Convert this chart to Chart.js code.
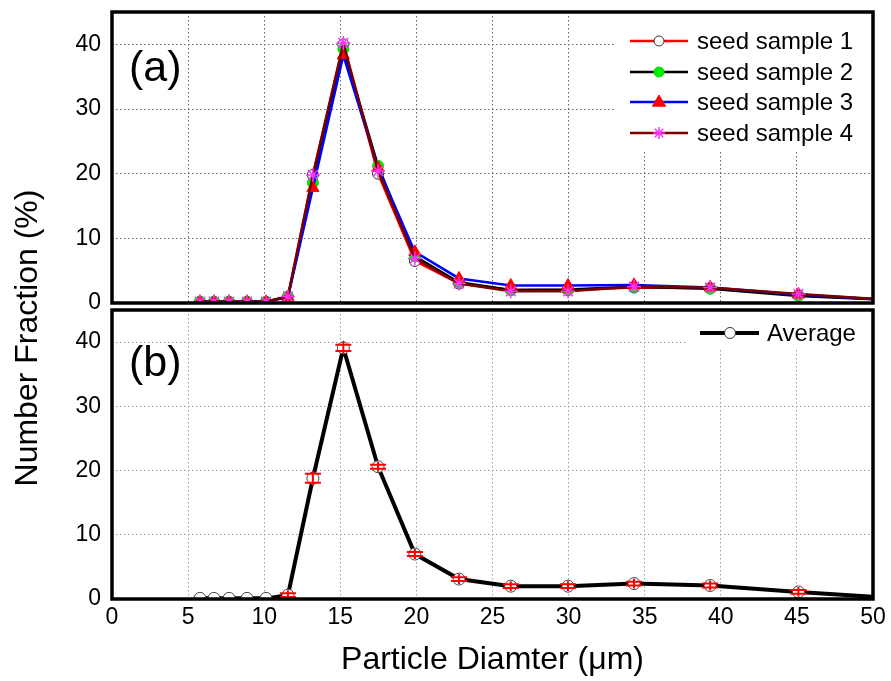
<!DOCTYPE html>
<html><head><meta charset="utf-8">
<script src="https://cdn.jsdelivr.net/npm/chart.js@4.4.1/dist/chart.umd.min.js"></script>
<style>
html,body{margin:0;padding:0;background:#fff;}
#wrap{position:relative;width:891px;height:681px;}
.c{position:absolute;left:0;top:0;width:891px;height:681px;}
</style></head><body>
<div id="wrap">
<div class="c"><canvas id="ca" width="891" height="681"></canvas></div>
<div class="c"><canvas id="cb" width="891" height="681"></canvas></div>
</div>
<script>
// ---- data ----
const diameters = [5.78, 6.70, 7.69, 8.87, 10.12, 11.56, 13.2, 15.2, 17.48, 19.9, 22.8, 26.2, 29.96, 34.3, 39.3, 45.1, 51.7];
const sample1 = [0.2, 0.2, 0.2, 0.2, 0.2, 1.0, 19.8, 40.0, 20.0, 6.5, 3.0, 2.0, 2.0, 2.4, 2.3, 1.2, 0.4];
const sample2 = [0.2, 0.2, 0.2, 0.2, 0.2, 1.0, 18.6, 39.3, 21.2, 7.2, 3.2, 2.0, 2.1, 2.5, 2.2, 1.1, 0.4];
const sample3 = [0.2, 0.2, 0.2, 0.2, 0.2, 0.9, 17.8, 38.3, 20.9, 7.9, 3.8, 2.7, 2.7, 2.8, 2.4, 1.3, 0.4];
const sample4 = [0.2, 0.2, 0.2, 0.2, 0.2, 1.0, 19.8, 40.2, 20.4, 6.9, 3.0, 1.8, 1.8, 2.5, 2.4, 1.4, 0.4];
const average = [0.1, 0.1, 0.1, 0.1, 0.1, 0.6, 18.8, 39.1, 20.6, 7.0, 3.1, 2.0, 2.0, 2.4, 2.1, 1.1, 0.1];
const avgError = [0, 0, 0, 0, 0, 0.3, 0.7, 0.5, 0.3, 0.3, 0.3, 0.3, 0.3, 0.3, 0.3, 0.3, 0];
const xTicks = [0, 5, 10, 15, 20, 25, 30, 35, 40, 45, 50];
const yTicks = [0, 10, 20, 30, 40];
const seriesNames = ['seed sample 1', 'seed sample 2', 'seed sample 3', 'seed sample 4'];

const FONT = '"Liberation Sans", Arial, Helvetica, sans-serif';
Chart.defaults.font.family = FONT;
Chart.defaults.color = '#000';

function pts(ys) { return diameters.map((x, i) => ({x: x, y: ys[i]})); }

function drawMarker(ctx, style, x, y, r, fill, stroke, lw) {
  ctx.save();
  ctx.fillStyle = fill; ctx.strokeStyle = stroke; ctx.lineWidth = lw;
  ctx.beginPath();
  if (style === 'circle') {
    ctx.arc(x, y, r, 0, Math.PI * 2); ctx.fill(); ctx.stroke();
  } else if (style === 'triangle') {
    const h = r * 1.5;
    ctx.moveTo(x, y - r); ctx.lineTo(x + r * 0.95, y + r * 0.6); ctx.lineTo(x - r * 0.95, y + r * 0.6); ctx.closePath();
    ctx.fill(); ctx.stroke();
  } else if (style === 'star') {
    for (let k = 0; k < 4; k++) {
      const a = k * Math.PI / 4;
      ctx.moveTo(x - r * Math.cos(a), y - r * Math.sin(a));
      ctx.lineTo(x + r * Math.cos(a), y + r * Math.sin(a));
    }
    ctx.stroke();
  }
  ctx.restore();
}

function yScaleOpts(gridColor) {
  return {
    type: 'linear', min: 0, max: 45,
    afterFit: s => { s.width = 112; s.paddingTop = 0; s.paddingBottom = 0; },
    afterBuildTicks: s => { s.ticks = yTicks.map(v => ({value: v})); },
    ticks: { font: {size: 23}, padding: 11, color: '#000' },
    grid: { color: gridColor, lineWidth: 1, drawTicks: false, borderDash: [1.5, 2.5] },
    border: { display: false, dash: [1.5, 2.5] }
  };
}

const framePlugin = {
  id: 'frame',
  afterDraw(chart, args, opts) {
    const ctx = chart.ctx, a = chart.chartArea;
    ctx.save();
    // legend box
    ctx.fillStyle = '#fff';
    ctx.fillRect(opts.box[0], opts.box[1], opts.box[2] - opts.box[0], opts.box[3] - opts.box[1]);
    ctx.textBaseline = 'middle';
    ctx.textAlign = 'left';
    ctx.font = '24px ' + FONT;
    opts.items.forEach(it => {
      ctx.strokeStyle = it.line; ctx.lineWidth = it.lw;
      ctx.beginPath(); ctx.moveTo(it.x0, it.y); ctx.lineTo(it.x1, it.y); ctx.stroke();
      drawMarker(ctx, it.style, it.mx, it.y, it.r, it.fill, it.stroke, it.mlw);
      ctx.fillStyle = '#000';
      ctx.fillText(it.text, it.tx, it.y + 1);
    });
    // panel label
    ctx.font = '43px ' + FONT;
    ctx.fillStyle = '#000';
    ctx.fillText(opts.label, 129, opts.labelY);
    // frame
    ctx.strokeStyle = '#000'; ctx.lineWidth = 3.5;
    ctx.strokeRect(a.left, a.top, a.right - a.left, a.bottom - a.top);
    if (opts.yTitle) {
      ctx.save();
      ctx.translate(28, 338);
      ctx.rotate(-Math.PI / 2);
      ctx.textAlign = 'center';
      ctx.font = '32px ' + FONT;
      ctx.fillText('Number Fraction (%)', 0, 0);
      ctx.restore();
    }
    ctx.restore();
  }
};

const errorPlugin = {
  id: 'errbars',
  afterDatasetsDraw(chart) {
    const ctx = chart.ctx, ys = chart.scales.y;
    const meta = chart.getDatasetMeta(0);
    ctx.save();
    ctx.beginPath();
    const a = chart.chartArea;
    ctx.rect(a.left, a.top, a.right - a.left, a.bottom - a.top);
    ctx.clip();
    ctx.strokeStyle = '#ff0000'; ctx.lineWidth = 2;
    meta.data.forEach((p, i) => {
      if (!avgError[i]) return;
      const yTop = ys.getPixelForValue(average[i] + avgError[i]);
      const yBot = ys.getPixelForValue(average[i] - avgError[i]);
      const x = p.x;
      ctx.beginPath();
      ctx.moveTo(x, yTop - 3); ctx.lineTo(x, yBot + 3);
      ctx.moveTo(x - 8, yTop); ctx.lineTo(x + 8, yTop);
      ctx.moveTo(x - 8, yBot); ctx.lineTo(x + 8, yBot);
      ctx.stroke();
    });
    ctx.restore();
  }
};

const xScaleBase = {
  type: 'linear', min: 0, max: 50,
  afterBuildTicks: s => { s.ticks = xTicks.map(v => ({value: v})); },
};

// ---- chart (a) ----
new Chart(document.getElementById('ca'), {
  type: 'line',
  data: {
    datasets: [
      { label: seriesNames[0], data: pts(sample1), borderColor: '#ff0000', borderWidth: 2.5, pointStyle: 'circle', pointRadius: 5.5, pointBackgroundColor: '#fff', pointBorderColor: '#333', pointBorderWidth: 1, order: 4, clip: {left: 0, top: 8, right: 0, bottom: 0} },
      { label: seriesNames[1], data: pts(sample2), borderColor: '#000', borderWidth: 2.5, pointStyle: 'circle', pointRadius: 5.5, pointBackgroundColor: '#00ee00', pointBorderColor: '#00dd00', pointBorderWidth: 1, order: 3, clip: {left: 0, top: 8, right: 0, bottom: 0} },
      { label: seriesNames[2], data: pts(sample3), borderColor: '#0000ff', borderWidth: 2.5, pointStyle: 'triangle', pointRadius: 7, pointBackgroundColor: '#ff0000', pointBorderColor: '#ff0000', pointBorderWidth: 1, order: 2, clip: {left: 0, top: 8, right: 0, bottom: 0} },
      { label: seriesNames[3], data: pts(sample4), borderColor: '#7a0000', borderWidth: 2.5, pointStyle: 'star', pointRadius: 7, pointBackgroundColor: '#ff33ff', pointBorderColor: '#ff33ff', pointBorderWidth: 1.5, order: 1, clip: {left: 0, top: 8, right: 0, bottom: 0} }
    ]
  },
  options: {
    responsive: false, animation: false,
    layout: { padding: { left: 0, right: 18, top: 12, bottom: 378 } },
    plugins: {
      legend: { display: false }, tooltip: { enabled: false },
      frame: {
        label: '(a)', labelY: 69, yTitle: false,
        box: [615, 13, 873, 150],
        items: [
          { text: seriesNames[0], y: 41, line: '#ff0000', lw: 2.5, style: 'circle', r: 5, fill: '#fff', stroke: '#333', mlw: 1, x0: 630, x1: 688, mx: 659, tx: 697 },
          { text: seriesNames[1], y: 72, line: '#000', lw: 2.5, style: 'circle', r: 5, fill: '#00ee00', stroke: '#00dd00', mlw: 1, x0: 630, x1: 688, mx: 659, tx: 697 },
          { text: seriesNames[2], y: 102, line: '#0000ff', lw: 2.5, style: 'triangle', r: 7, fill: '#ff0000', stroke: '#ff0000', mlw: 1, x0: 630, x1: 688, mx: 659, tx: 697 },
          { text: seriesNames[3], y: 133, line: '#7a0000', lw: 2.5, style: 'star', r: 6, fill: '#ff33ff', stroke: '#ff33ff', mlw: 1.5, x0: 630, x1: 688, mx: 659, tx: 697 }
        ]
      }
    },
    scales: {
      x: Object.assign({}, xScaleBase, {
        afterFit: s => { s.height = 0; s.paddingLeft = 0; s.paddingRight = 0; },
        ticks: { display: false },
        grid: { color: '#666', lineWidth: 1, drawTicks: false },
        border: { display: false, dash: [1.5, 2.5] }
      }),
      y: yScaleOpts('#666')
    }
  },
  plugins: [framePlugin]
});

// ---- chart (b) ----
new Chart(document.getElementById('cb'), {
  type: 'line',
  data: {
    datasets: [
      { label: 'Average', data: pts(average), borderColor: '#000', borderWidth: 4, pointStyle: 'circle', pointRadius: 6, pointBackgroundColor: '#fff', pointBorderColor: '#444', pointBorderWidth: 1, clip: {left: 0, top: 8, right: 0, bottom: 0} }
    ]
  },
  options: {
    responsive: false, animation: false,
    layout: { padding: { left: 0, right: 18, top: 310, bottom: 0 } },
    plugins: {
      legend: { display: false }, tooltip: { enabled: false },
      frame: {
        label: '(b)', labelY: 364, yTitle: true,
        box: [687, 312, 873, 350],
        items: [
          { text: 'Average', y: 333, line: '#000', lw: 4, style: 'circle', r: 5.5, fill: '#fff', stroke: '#333', mlw: 1, x0: 700, x1: 759, mx: 730, tx: 767 }
        ]
      }
    },
    scales: {
      x: Object.assign({}, xScaleBase, {
        afterFit: s => { s.height = 82; s.paddingLeft = 0; s.paddingRight = 0; },
        ticks: { font: {size: 23}, padding: 5, color: '#000', maxRotation: 0, autoSkip: false },
        grid: { color: '#9a9a9a', lineWidth: 1, drawTicks: false },
        border: { display: false, dash: [1.5, 2.5] },
        title: { display: true, text: 'Particle Diamter (μm)', font: {size: 32}, color: '#000', padding: {top: 0, bottom: 2} }
      }),
      y: yScaleOpts('#9a9a9a')
    }
  },
  plugins: [framePlugin, errorPlugin]
});
</script>
</body></html>
